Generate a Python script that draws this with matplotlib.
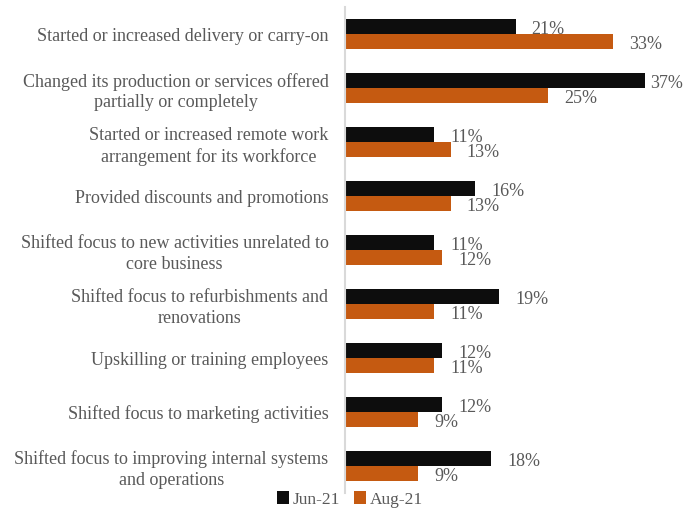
import numpy as np
import matplotlib.pyplot as plt

plt.rcParams['font.family'] = ['Liberation Serif', 'DejaVu Serif']

categories = [
    "Started or increased delivery or carry-on",
    "Changed its production or services offered\npartially or completely",
    "Started or increased remote work\narrangement for its workforce",
    "Provided discounts and promotions",
    "Shifted focus to new activities unrelated to\ncore business",
    "Shifted focus to refurbishments and\nrenovations",
    "Upskilling or training employees",
    "Shifted focus to marketing activities",
    "Shifted focus to improving internal systems\nand operations",
]
jun21 = [21, 37, 11, 16, 11, 19, 12, 12, 18]
aug21 = [33, 25, 13, 13, 12, 11, 11, 9, 9]
series_names = ["Jun-21", "Aug-21"]

black = "#0d0d0d"
orange = "#c55a11"
text_col = "#595959"

fig = plt.figure(figsize=(6.86, 5.12), dpi=100)
ax = fig.add_axes([0.503, 0.037, 0.497, 0.949])

y = np.arange(len(categories))
h = 0.28
b1 = ax.barh(y - h / 2, jun21, height=h, color=black, label=series_names[0])
b2 = ax.barh(y + h / 2, aug21, height=h, color=orange, label=series_names[1])

ax.set_xlim(0, 42)
ax.set_ylim(len(categories) - 0.5, -0.5)

# value labels, pulled in a bit where they would run off the right edge
for bars, vals in ((b1, jun21), (b2, aug21)):
    for rect, v in zip(bars, vals):
        off = 3.5 if v >= 36 else 11.5
        ax.annotate(f"{v}%", (v, rect.get_y() + rect.get_height() / 2),
                    xytext=(off, -2), textcoords="offset points",
                    ha="left", va="center", fontsize=13, color=text_col,
                    annotation_clip=False)

ax.set_yticks(y)
ax.set_yticklabels(categories, fontsize=13, color=text_col,
                   multialignment="center", linespacing=1.3)
ax.tick_params(axis="y", length=0, pad=12)
ax.set_xticks([])

for s in ("top", "right", "bottom"):
    ax.spines[s].set_visible(False)
ax.spines["left"].set_color("#d9d9d9")
ax.spines["left"].set_linewidth(1.5)

fig.legend(handles=[b1, b2], loc="lower center", bbox_to_anchor=(0.51, -0.022),
           ncol=2, frameon=False, fontsize=12.5, handlelength=0.7,
           handleheight=0.7, handletextpad=0.2, columnspacing=0.8,
           labelcolor=text_col)

fig.savefig("out.png", dpi=100)
